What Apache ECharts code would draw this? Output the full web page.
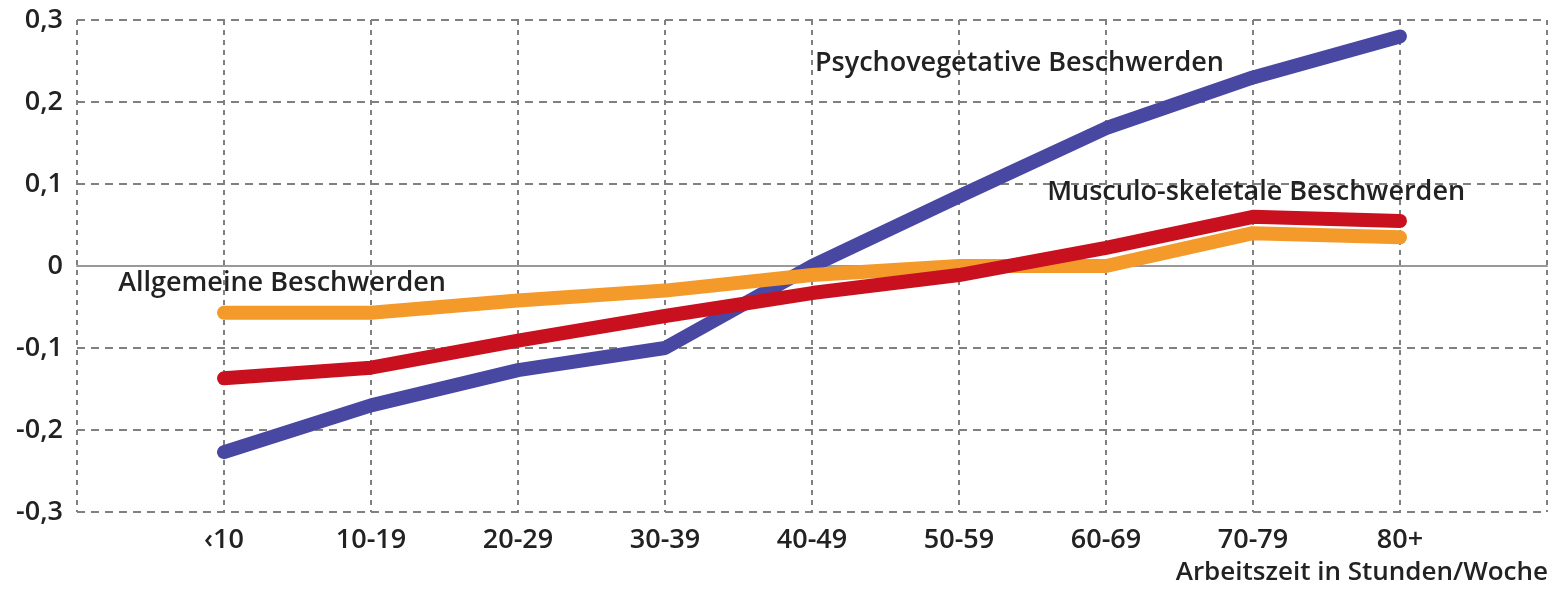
<!DOCTYPE html>
<html>
<head>
<meta charset="utf-8">
<script src="https://cdn.jsdelivr.net/npm/echarts@6/dist/echarts.min.js"></script>
<style>
  html, body { margin: 0; padding: 0; background: #fff; }
  #main { width: 1555px; height: 593px; }
</style>
</head>
<body>
<div id="main"></div>
<script>
// Kategorien (Arbeitszeit in Stunden/Woche)
const categories = ['‹10', '10-19', '20-29', '30-39', '40-49', '50-59', '60-69', '70-79', '80+'];
// Werte je Beschwerdeart
const psycho = [-0.227, -0.17, -0.127, -0.1, 0, 0.085, 0.168, 0.23, 0.28];
const musculo = [-0.137, -0.124, -0.091, -0.061, -0.033, -0.011, 0.022, 0.06, 0.055];
const allgemein = [-0.057, -0.057, -0.042, -0.03, -0.011, 0, 0, 0.04, 0.035];
// y-Achse
const yMin = -0.3, yMax = 0.3, yStep = 0.1;

const font = '"Open Sans", "DejaVu Sans", sans-serif';
const toPairs = arr => arr.map((v, i) => [i + 1, v]);

const lineSeries = (name, data, color, z, labelCoord) => ({
  name: name,
  type: 'line',
  data: toPairs(data),
  xAxisIndex: 0,
  z: z,
  symbol: 'none',
  smooth: false,
  lineStyle: { color: color, width: 14, cap: 'round', join: 'round' },
  markPoint: {
    silent: true,
    symbol: 'circle',
    symbolSize: 0,
    data: [{ coord: labelCoord }],
    label: {
      show: true,
      position: 'right',
      distance: 0,
      formatter: name,
      color: '#222',
      fontFamily: font,
      fontWeight: 600,
      fontSize: 27
    }
  }
});

const option = {
  animation: false,
  title: {
    text: 'Arbeitszeit in Stunden/Woche',
    right: 7,
    top: 560,
    padding: 0,
    textStyle: { color: '#222', fontFamily: font, fontWeight: 600, fontSize: 26 }
  },
  grid: { left: 77, right: 8, top: 20, bottom: 81 },
  xAxis: [
    {
      type: 'value',
      min: 0,
      max: 10,
      interval: 1,
      axisLine: { show: false, onZero: false },
      axisTick: { show: false },
      axisLabel: {
        margin: 15,
        color: '#222',
        fontFamily: font,
        fontWeight: 600,
        fontSize: 27,
        formatter: v => categories[v - 1] || ''
      },
      splitLine: { show: true, lineStyle: { color: '#808080', width: 2, type: [5, 5] } }
    },
    {
      // Nulllinie
      type: 'value',
      min: 0,
      max: 10,
      axisLine: { show: true, onZero: true, lineStyle: { color: '#999', width: 2 } },
      axisTick: { show: false },
      axisLabel: { show: false },
      splitLine: { show: false }
    }
  ],
  yAxis: {
    type: 'value',
    min: yMin,
    max: yMax,
    interval: yStep,
    axisLine: { show: false },
    axisTick: { show: false },
    axisLabel: {
      margin: 14,
      color: '#222',
      fontFamily: font,
      fontWeight: 600,
      fontSize: 27,
      formatter: v => Math.abs(v) < 1e-9 ? '0' : v.toFixed(1).replace('.', ',')
    },
    splitLine: { show: true, lineStyle: { color: '#808080', width: 2, type: [8, 6] } }
  },
  series: [
    lineSeries('Psychovegetative Beschwerden', psycho, '#4848a3', 3, [5.02, 0.2476]),
    lineSeries('Allgemeine Beschwerden', allgemein, '#f39a2b', 4, [0.28, -0.021]),
    lineSeries('Musculo-skeletale Beschwerden', musculo, '#c8101f', 5, [6.6, 0.09])
  ]
};

const chart = echarts.init(document.getElementById('main'));
chart.setOption(option);
</script>
</body>
</html>
